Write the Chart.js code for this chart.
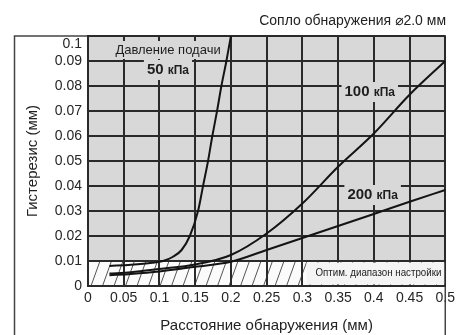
<!DOCTYPE html>
<html lang="ru">
<head>
<meta charset="utf-8">
<title>Гистерезис</title>
<script src="https://cdn.jsdelivr.net/npm/chart.js"></script>
<style>
    html, body { margin: 0; padding: 0; background: #fff; }
    canvas { display: block; }
</style>
</head>
<body>
<canvas id="hysteresis-chart" width="459" height="335"></canvas>
<script>
// supply pressure 50 kPa: distance (mm) and hysteresis (mm)
var distance_50 = [0.03, 0.06, 0.09, 0.105, 0.119, 0.131, 0.1425, 0.154, 0.161, 0.168, 0.174, 0.1806, 0.1867, 0.1937, 0.2];
var hysteresis_50 = [0.008, 0.0085, 0.0093, 0.01, 0.0117, 0.0144, 0.02, 0.03, 0.04, 0.05, 0.06, 0.07, 0.08, 0.09, 0.1];
// supply pressure 100 kPa
var distance_100 = [0.03, 0.06, 0.1, 0.15, 0.2, 0.25, 0.3, 0.35, 0.4, 0.45, 0.5];
var hysteresis_100 = [0.005, 0.0055, 0.0068, 0.0086, 0.0124, 0.021, 0.033, 0.0477, 0.061, 0.0765, 0.09];
// supply pressure 200 kPa
var distance_200 = [0.03, 0.06, 0.1, 0.15, 0.2, 0.25, 0.3, 0.35, 0.4, 0.45, 0.5];
var hysteresis_200 = [0.0043, 0.0048, 0.0058, 0.0077, 0.0097, 0.0144, 0.0192, 0.024, 0.0288, 0.0337, 0.0384];
// tick values of both axes
var x_ticks = [0, 0.05, 0.1, 0.15, 0.2, 0.25, 0.3, 0.35, 0.4, 0.45, 0.5];
var y_ticks = [0, 0.01, 0.02, 0.03, 0.04, 0.05, 0.06, 0.07, 0.08, 0.09, 0.1];
// upper limit of the optimal setting range
var optimal_limit = 0.01;

var font_family = "'Liberation Sans', Arial, 'DejaVu Sans', sans-serif";
var plot_grey = '#d8d8d8';
var ink = '#2a2a2a';

// function that turns two arrays into chart points
function toPoints(xs, ys) {
    var points = [];
    for (var i = 0; i < xs.length; i++) {
        points.push({ x: xs[i], y: ys[i] });
    }
    return points;
}

// function that prints a number without float noise
function formatTick(value) {
    return String(Number(value.toFixed(2)));
}

// function that draws a text with a grey box behind it
function boxedText(ctx, text, cx, cy, font) {
    ctx.font = font;
    var w = ctx.measureText(text).width;
    ctx.fillStyle = plot_grey;
    ctx.fillRect(cx - w / 2 - 3, cy - 9, w + 6, 18);
    ctx.fillStyle = '#1e1e1e';
    ctx.textAlign = 'center';
    ctx.textBaseline = 'middle';
    ctx.fillText(text, cx, cy);
}

// function that draws a pressure label like "100 кПа"
function pressureLabel(ctx, number, left, cy) {
    var big = 'bold 15px ' + font_family;
    var small = 'bold 12px ' + font_family;
    ctx.font = big;
    var w1 = ctx.measureText(number + ' ').width;
    ctx.font = small;
    var w2 = ctx.measureText('кПа').width;
    ctx.fillStyle = plot_grey;
    ctx.fillRect(left - 3, cy - 10, w1 + w2 + 6, 20);
    ctx.fillStyle = '#1e1e1e';
    ctx.textAlign = 'left';
    ctx.textBaseline = 'middle';
    ctx.font = big;
    ctx.fillText(number + ' ', left, cy);
    ctx.font = small;
    ctx.fillText('кПа', left + w1, cy + 0.5);
}

// plugin that draws frame, background, hatched band and labels
var chartDecor = {
    id: 'chartDecor',
    beforeDraw: function(chart) {
        var ctx = chart.ctx;
        var area = chart.chartArea;
        var sy = chart.scales.y;
        ctx.save();
        // white page
        ctx.fillStyle = '#fff';
        ctx.fillRect(0, 0, chart.width, chart.height);
        // outer frame
        ctx.strokeStyle = '#444';
        ctx.lineWidth = 1.5;
        ctx.strokeRect(14.5, area.top, area.right - 14.5, chart.height);
        // grey plot area
        ctx.fillStyle = plot_grey;
        ctx.fillRect(area.left, area.top, area.right - area.left, area.bottom - area.top);
        // hatched optimal range
        var band_top = sy.getPixelForValue(optimal_limit);
        var band_bottom = sy.getPixelForValue(0);
        ctx.fillStyle = '#fbfbfb';
        ctx.fillRect(area.left, band_top, area.right - area.left, band_bottom - band_top);
        ctx.beginPath();
        ctx.rect(area.left, band_top, area.right - area.left, band_bottom - band_top);
        ctx.clip();
        ctx.strokeStyle = '#555';
        ctx.lineWidth = 1;
        ctx.beginPath();
        for (var hx = area.left - 20; hx < area.right + 20; hx += 11.5) {
            ctx.moveTo(hx, band_bottom);
            ctx.lineTo(hx + 9, band_top);
        }
        ctx.stroke();
        ctx.restore();
    },
    beforeDatasetsDraw: function(chart) {
        var ctx = chart.ctx;
        var sx = chart.scales.x;
        var sy = chart.scales.y;
        ctx.save();
        // box of the optimal range caption
        var box_left = sx.getPixelForValue(0.306);
        var band_top = sy.getPixelForValue(optimal_limit);
        ctx.fillStyle = '#f4f4f4';
        ctx.fillRect(box_left, band_top + 1.5, chart.chartArea.right - box_left - 1, sy.getPixelForValue(0) - band_top - 3);
        ctx.font = '11px ' + font_family;
        var cap = 'Оптим. диапазон настройки';
        var cap_w = ctx.measureText(cap).width;
        var cx = sx.getPixelForValue(0.4064);
        var cy = sy.getPixelForValue(0.0052);
        ctx.translate(cx, cy);
        ctx.scale(126 / cap_w, 1);
        ctx.fillStyle = '#222';
        ctx.textAlign = 'center';
        ctx.textBaseline = 'middle';
        ctx.fillText(cap, 0, 0);
        ctx.restore();

        ctx.save();
        // supply pressure captions
        boxedText(ctx, 'Давление подачи', sx.getPixelForValue(0.112), sy.getPixelForValue(0.0944), '13px ' + font_family);
        pressureLabel(ctx, '50', sx.getPixelForValue(0.0824), sy.getPixelForValue(0.0864));
        pressureLabel(ctx, '100', sx.getPixelForValue(0.359), sy.getPixelForValue(0.0776));
        pressureLabel(ctx, '200', sx.getPixelForValue(0.363), sy.getPixelForValue(0.0364));
        ctx.restore();
    }
};

// common style of the three curves
function curve(label, xs, ys) {
    return {
        label: label,
        data: toPoints(xs, ys),
        borderColor: '#141414',
        borderWidth: 2,
        pointRadius: 0,
        fill: false,
        cubicInterpolationMode: 'monotone'
    };
}

var ctx = document.getElementById('hysteresis-chart').getContext('2d');
var hysteresisChart = new Chart(ctx, {
    type: 'line',
    data: {
        datasets: [
            curve('50 кПа', distance_50, hysteresis_50),
            curve('100 кПа', distance_100, hysteresis_100),
            curve('200 кПа', distance_200, hysteresis_200)
        ]
    },
    options: {
        responsive: false,
        animation: false,
        layout: { padding: { left: 0, right: 13, top: 0, bottom: 0 } },
        plugins: {
            legend: { display: false },
            tooltip: { enabled: false },
            title: {
                display: true,
                text: 'Сопло обнаружения ⌀2.0 мм',
                align: 'end',
                color: '#222',
                font: { family: font_family, size: 14, weight: 'normal', lineHeight: 1.2 },
                padding: { top: 13, bottom: 6.2 }
            }
        },
        scales: {
            x: {
                type: 'linear',
                min: 0,
                max: 0.5,
                afterBuildTicks: function(scale) {
                    scale.ticks = x_ticks.map(function(v) { return { value: v }; });
                },
                afterFit: function(scale) {
                    scale.height = 49;
                },
                ticks: {
                    color: '#262626',
                    padding: 4,
                    maxRotation: 0,
                    autoSkip: false,
                    font: { family: font_family, size: 14 },
                    callback: function(value) { return formatTick(value); }
                },
                grid: { color: ink, lineWidth: 2, drawTicks: false },
                border: { display: true, color: ink, width: 2 },
                title: {
                    display: true,
                    text: 'Расстояние обнаружения (мм)',
                    color: '#222',
                    font: { family: font_family, size: 15, lineHeight: 1.2 },
                    padding: { top: 0, bottom: 0 }
                }
            },
            y: {
                type: 'linear',
                min: 0,
                max: 0.1,
                afterBuildTicks: function(scale) {
                    scale.ticks = y_ticks.map(function(v) { return { value: v }; });
                },
                afterFit: function(scale) {
                    scale.width = 88;
                },
                ticks: {
                    color: '#262626',
                    padding: 6,
                    autoSkip: false,
                    font: { family: font_family, size: 14 },
                    callback: function(value) {
                        // top label sits a little below the frame
                        if (value === 0.1) {
                            return ['', formatTick(value)];
                        }
                        return formatTick(value);
                    }
                },
                grid: { color: ink, lineWidth: 2, drawTicks: false },
                border: { display: true, color: ink, width: 2 },
                title: {
                    display: true,
                    text: 'Гистерезис (мм)',
                    color: '#222',
                    font: { family: font_family, size: 15, lineHeight: 1.2 },
                    padding: { top: 24, bottom: 0 }
                }
            }
        }
    },
    plugins: [chartDecor]
});
</script>
</body>
</html>
